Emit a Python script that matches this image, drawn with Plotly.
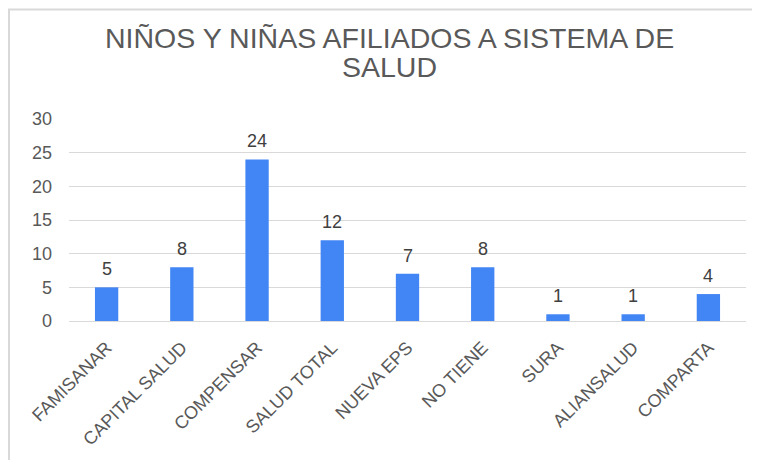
import plotly.graph_objects as go

categories = ["FAMISANAR", "CAPITAL SALUD", "COMPENSAR", "SALUD TOTAL", "NUEVA EPS",
              "NO TIENE", "SURA", "ALIANSALUD", "COMPARTA"]
values = [5, 8, 24, 12, 7, 8, 1, 1, 4]
y_ticks = [0, 5, 10, 15, 20, 25, 30]
title_lines = ["NIÑOS Y NIÑAS AFILIADOS A SISTEMA DE", "SALUD"]

W, H = 760, 460
OFF = 8  # page offset of the figure div
# desired plot area in page pixels: x 69..746, y 119..321
L = 69 - OFF
R = W - (746 - OFF)
T = 119 - OFF
B = H - (321 - OFF)
pw, ph = W - L - R, H - T - B

def px_x(page_x):
    return (page_x - OFF - L) / pw

def px_y(page_y):
    return (H - B - (page_y - OFF)) / ph

FONT = "Liberation Sans, Arial, sans-serif"
GRID = "#d9d9d9"
TXT = "#595959"

fig = go.Figure(go.Bar(
    x=categories, y=values, marker_color="#4285F4", marker_line_width=0,
    hoverinfo="x+y",
))

for c, v in zip(categories, values):
    fig.add_annotation(x=c, y=v, text=str(v), showarrow=False, yanchor="bottom",
                       yshift=6, font=dict(family=FONT, size=18, color="#404040"))

for line, cy in zip(title_lines, [38, 67]):
    fig.add_annotation(xref="paper", yref="paper", x=px_x(389), y=px_y(cy),
                       xanchor="center", yanchor="middle", showarrow=False,
                       text=line, font=dict(family=FONT, size=28.5, color=TXT))

fig.update_layout(
    width=W, height=H,
    margin=dict(l=L, r=R, t=T, b=B, autoexpand=False),
    paper_bgcolor="white", plot_bgcolor="white",
    bargap=0.69,
    showlegend=False,
    font=dict(family=FONT, color=TXT),
    xaxis=dict(tickangle=-45, tickfont=dict(size=18, color=TXT),
               showline=True, linecolor=GRID, linewidth=1,
               showgrid=False, ticks="", ticklabelstandoff=8),
    yaxis=dict(range=[0, 30], tickvals=y_ticks, showgrid=True, gridcolor=GRID,
               gridwidth=1, zeroline=False, tickfont=dict(size=18, color=TXT),
               ticks="", ticklabelstandoff=16),
    shapes=[
        dict(type="line", xref="paper", yref="paper", x0=px_x(9), x1=px_x(9),
             y0=px_y(9.5), y1=px_y(480), line=dict(color=GRID, width=2)),
        dict(type="line", xref="paper", yref="paper", x0=px_x(8), x1=px_x(790),
             y0=px_y(9.5), y1=px_y(9.5), line=dict(color=GRID, width=2)),
    ],
)

fig.write_html("out.html")
